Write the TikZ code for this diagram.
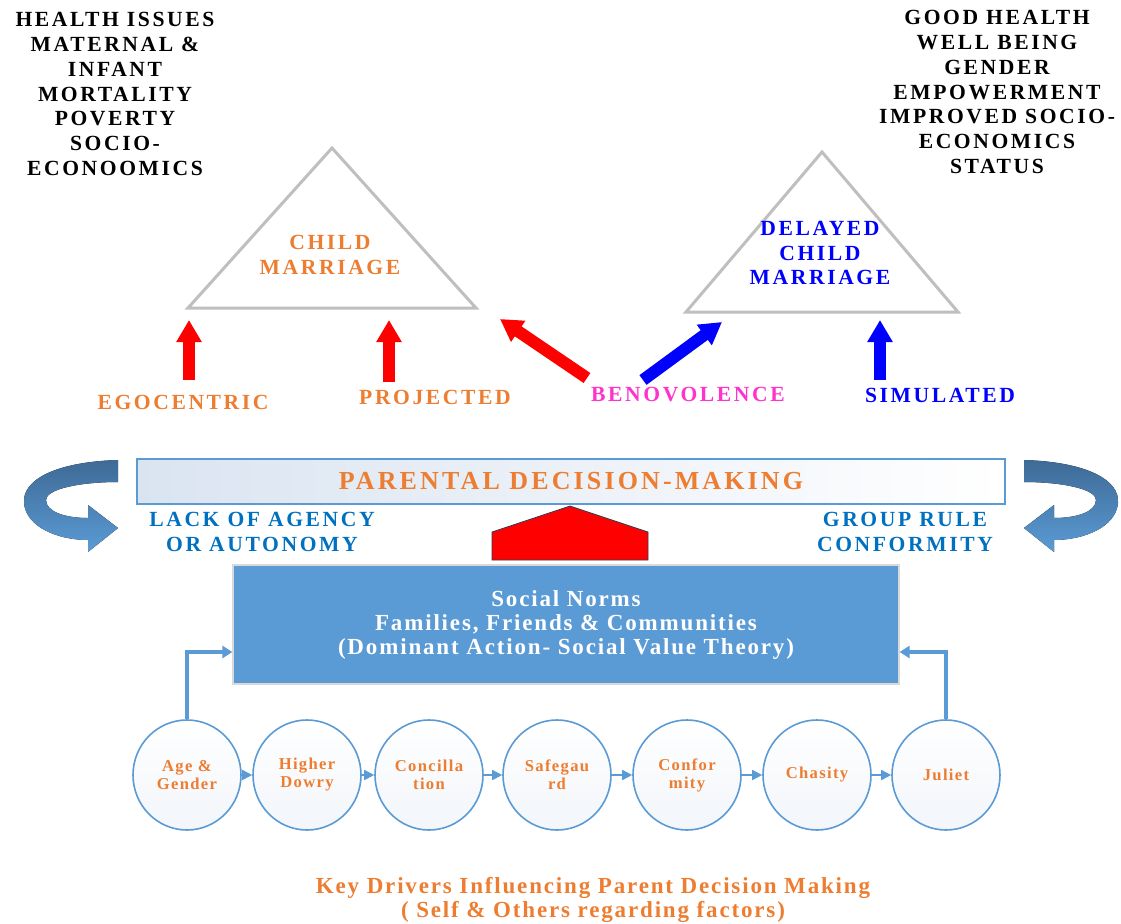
\documentclass[tikz,border=0pt]{standalone}
\usepackage{fontspec}
\setmainfont{Liberation Serif}
\newfontfamily\capsfont[LetterSpace=12]{Liberation Serif}
\newfontfamily\spacedfont[LetterSpace=8]{Liberation Serif}
\usetikzlibrary{arrows.meta,shapes.geometric}
\definecolor{drvorange}{RGB}{237,125,49}
\definecolor{agencyblue}{RGB}{0,112,192}
\definecolor{benopink}{RGB}{255,51,204}
\definecolor{normblue}{RGB}{91,155,213}
\definecolor{ribbondark}{RGB}{62,106,150}
\definecolor{tribgray}{RGB}{191,191,191}
\definecolor{paleblue}{RGB}{218,228,241}

\begin{document}
\begin{tikzpicture}[x=0.5pt,y=-0.5pt,
  capstext/.style={font=\capsfont\bfseries\fontsize{10.8}{12.35}\selectfont, align=center, inner sep=0pt},
  smalltext/.style={font=\spacedfont\bfseries\fontsize{11.5}{12}\selectfont, align=center, inner sep=0pt},
  driver/.style={ellipse, draw=normblue, line width=0.8pt, top color=white, bottom color=paleblue!35,
    minimum width=54pt, minimum height=55pt, inner sep=0pt, align=center, text=drvorange,
    font=\spacedfont\bfseries\fontsize{8.3}{9}\selectfont},
  chainarrow/.style={normblue, line width=0.8pt, -{Triangle[length=5pt,width=5pt]}},
  feed/.style={normblue, line width=2pt, -{Triangle[length=5pt,width=6pt]}},
  fatarrow/.style={line width=6pt, -{Triangle[length=11pt,width=12pt]}},
  ribbon/.pic={
    \fill[top color=ribbondark, bottom color=normblue]
      (118,460) .. controls (55,462) and (22,480) .. (24,503)
      .. controls (26,527) and (58,540) .. (88,540) -- (88,552) -- (118,528)
      -- (88,505) -- (88,518) .. controls (66,518) and (46,512) .. (46,500)
      .. controls (46,489) and (80,482) .. (118,482) -- cycle;
  }]
\useasboundingbox (0,0) rectangle (1121,923);

% Outcome lists
\node[capstext] (harm) at (115,94) {HEALTH ISSUES\\MATERNAL \&\\INFANT\\MORTALITY\\POVERTY\\SOCIO-\\ECONOOMICS};
\node[capstext] (gain) at (997,92) {GOOD HEALTH\\WELL BEING\\GENDER\\EMPOWERMENT\\IMPROVED SOCIO-\\ECONOMICS\\STATUS};

% Triangles
\draw[tribgray, line width=1.5pt] (332,148) -- (476,308) -- (188,308) -- cycle;
\draw[tribgray, line width=1.5pt] (822,152) -- (958,312) -- (686,312) -- cycle;
\node[capstext, text=drvorange] (cm) at (330,255) {CHILD\\MARRIAGE};
\node[capstext, text=blue] (dcm) at (820,253) {DELAYED\\CHILD\\MARRIAGE};

% Motive labels
\node[capstext, text=drvorange] (ego) at (183,402) {EGOCENTRIC};
\node[capstext, text=drvorange] (proj) at (435,397) {PROJECTED};
\node[capstext, text=benopink] (beno) at (688,395) {BENOVOLENCE};
\node[capstext, text=blue] (simu) at (940,395) {SIMULATED};

% Arrow ends
\coordinate (egoS) at (189,380);
\coordinate (egoE) at (189,320);
\coordinate (projS) at (389,382);
\coordinate (projE) at (389,320);
\coordinate (benoL) at (587,378);
\coordinate (cmE) at (500,319);
\coordinate (benoR) at (643,380);
\coordinate (dcmE) at (722,322);
\coordinate (simuS) at (880,380);
\coordinate (simuE) at (880,320);

% Fat arrows
\draw[fatarrow, red] (egoS) -- (egoE);
\draw[fatarrow, red] (projS) -- (projE);
\draw[fatarrow, red] (benoL) -- (cmE);
\draw[fatarrow, blue] (benoR) -- (dcmE);
\draw[fatarrow, blue] (simuS) -- (simuE);

% Decision box
\node[draw=normblue, line width=0.6pt, left color=paleblue, right color=white,
  minimum width=434pt, minimum height=22.5pt, inner sep=0pt, text=drvorange,
  font=\capsfont\bfseries\fontsize{13}{14}\selectfont] (pdm) at (571,481.5) {PARENTAL DECISION-MAKING};

% Curved arrows
\pic at (0,0) {ribbon};
\pic[xscale=-1] at (1142,0) {ribbon};
\node[capstext, text=agencyblue] (agency) at (262,532) {LACK OF AGENCY\\OR AUTONOMY};
\node[capstext, text=agencyblue] (group) at (905,532) {GROUP RULE\\CONFORMITY};

% Red pentagon
\fill[red, draw=ribbondark!60!black, line width=0.4pt] (492,560) -- (492,532) -- (570,506) -- (648,532) -- (648,560) -- cycle;

% Social norms box
\node[fill=normblue, draw=white!85!black, line width=0.6pt, minimum width=333pt, minimum height=59.5pt,
  inner sep=0pt, text=white, align=center, font=\spacedfont\bfseries\fontsize{11.5}{12}\selectfont]
  (norms) at (566,624.5) {Social Norms\\Families, Friends \& Communities\\(Dominant Action- Social Value Theory)};

% Key drivers
\node[driver] (c1) at (187,775) {Age \&\\Gender};
\node[driver] (c2) at (307,775) {Higher\\Dowry};
\node[driver] (c3) at (429,775) {Concilla\\tion};
\node[driver] (c4) at (557,775) {Safegau\\rd};
\node[driver] (c5) at (687,775) {Confor\\mity};
\node[driver] (c6) at (817,775) {Chasity};
\node[driver] (c7) at (946,775) {Juliet};
\draw[chainarrow] (c1) -- (c2);
\draw[chainarrow] (c2) -- (c3);
\draw[chainarrow] (c3) -- (c4);
\draw[chainarrow] (c4) -- (c5);
\draw[chainarrow] (c5) -- (c6);
\draw[chainarrow] (c6) -- (c7);
\draw[feed] (c1.north) |- ([yshift=-13.75pt]norms.west);
\draw[feed] (c7.north) |- ([yshift=-13.75pt]norms.east);

% Caption
\node[smalltext, text=drvorange] (cap) at (593,900) {Key Drivers Influencing Parent Decision Making\\( Self \& Others regarding factors)};
\end{tikzpicture}
\end{document}
